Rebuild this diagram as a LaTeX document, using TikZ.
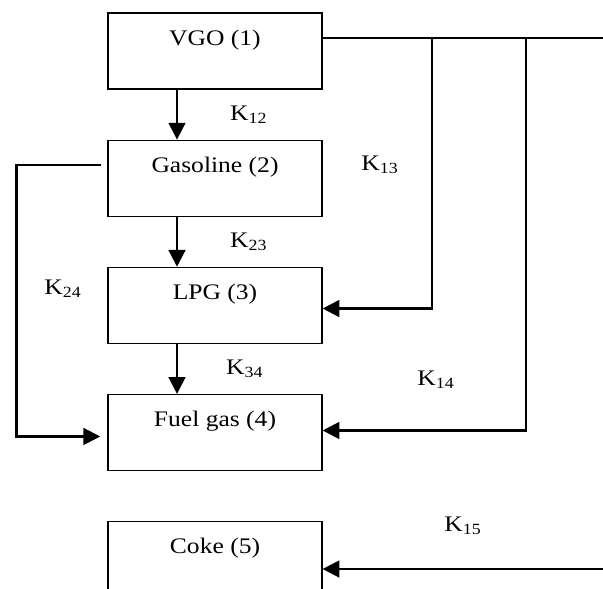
\documentclass[tikz,border=0pt]{standalone}
\usepackage{fontspec}
\setmainfont{Liberation Serif}[FakeStretch=1.15]
\usetikzlibrary{arrows.meta,positioning,calc}

\begin{document}
\begin{tikzpicture}[x=0.025cm, y=-0.025cm, font=\fontsize{15.8}{18}\selectfont,
  box/.style={draw, line width=0.8pt, minimum width=5.35cm, inner ysep=0pt, text height=0.8cm, text depth=1.1cm},
  link/.style={line width=1.6pt},
  flow/.style={link, -{Triangle[length=4.2mm,width=4.2mm]}},
  rate/.style={inner sep=0pt}]
\clip (0,0) rectangle (603,588);
\fill[white] (0,0) rectangle (603,588);
% lumps, top to bottom
\node[box] (vgo) at (215,51) {VGO (1)};
\node[box, below=1.25cm of vgo] (gas) {Gasoline (2)};
\node[box, below=1.25cm of gas] (lpg) {LPG (3)};
\node[box, below=1.25cm of lpg] (fuel) {Fuel gas (4)};
\node[box, below=1.25cm of fuel] (coke) {Coke (5)};
% cascade down the left column
\draw[flow] ([xshift=-0.95cm]vgo.south) -- node[rate, right=1.3cm] (k12) {K\textsubscript{12}} ([xshift=-0.95cm]gas.north);
\draw[flow] ([xshift=-0.95cm]gas.south) -- node[rate, right=1.3cm] (k23) {K\textsubscript{23}} ([xshift=-0.95cm]lpg.north);
\draw[flow] ([xshift=-0.95cm]lpg.south) -- node[rate, right=1.2cm] (k34) {K\textsubscript{34}} ([xshift=-0.95cm]fuel.north);
% gasoline to fuel gas, round the left
\draw[flow] ([xshift=-0.15cm,yshift=0.33cm]gas.west) -- ++(-85,0) |- ([xshift=-0.18cm,yshift=-0.1cm]fuel.west);
% VGO feed line on the right
\coordinate (rim) at (603,0);
\coordinate (c13) at (432,0);
\coordinate (c14) at (526,0);
\coordinate (c15) at (603,569);
\draw[link] ([yshift=0.33cm]vgo.east) coordinate (out1) -- (out1 -| rim);
\draw[flow] (out1 -| c13) |- ([yshift=-0.08cm]lpg.east);
\draw[flow] (out1 -| c14) |- ([yshift=0.05cm]fuel.east);
\draw[flow] (c15) -- (coke.east |- c15);
% rate constants
\node[rate] (k13) at (380,165) {K\textsubscript{13}};
\node[rate] (k24) at (63,289) {K\textsubscript{24}};
\node[rate] (k14) at (436,380) {K\textsubscript{14}};
\node[rate] (k15) at (463,526) {K\textsubscript{15}};
\end{tikzpicture}
\end{document}
